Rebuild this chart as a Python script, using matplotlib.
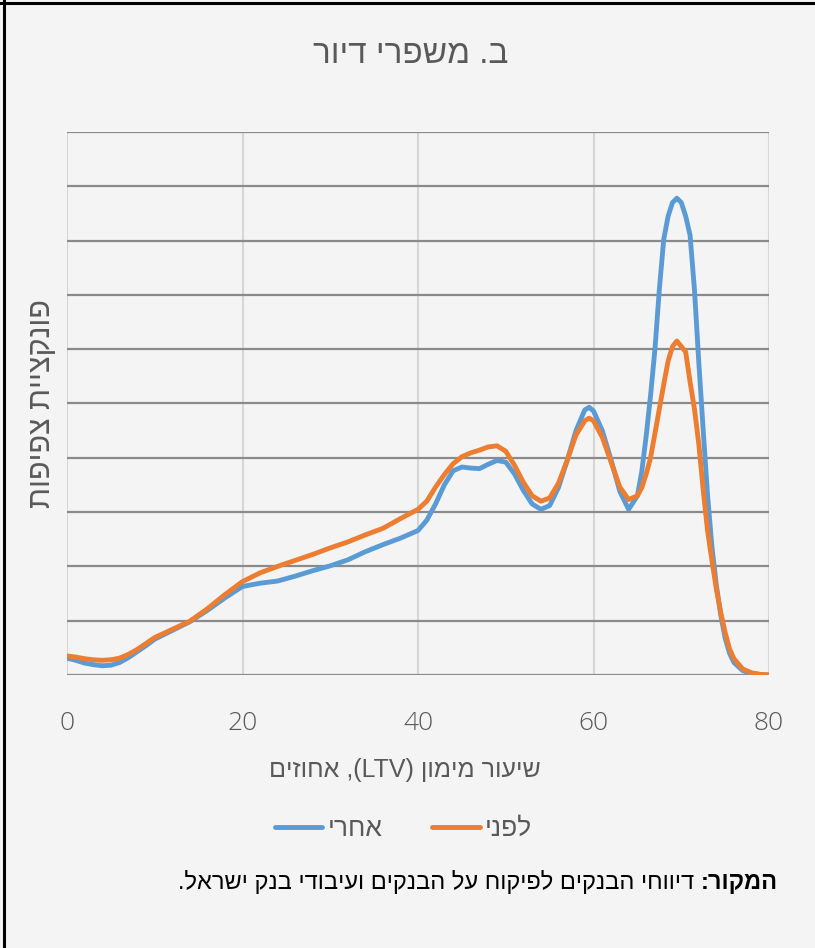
import re
import matplotlib
matplotlib.use("Agg")
import matplotlib.pyplot as plt
from matplotlib.lines import Line2D

# LTV (%) and density in units of one gridline step
ltv = [0, 1, 2, 3, 4, 5, 6, 7, 8, 9, 10, 12, 14, 16, 18, 20, 22, 24, 26, 28,
       30, 32, 34, 36, 38, 40, 41, 42, 43, 44, 45, 46, 47, 48, 49, 50, 51, 52,
       53, 54, 55, 56, 57, 58, 59, 59.5, 60, 61, 62, 63, 64, 65, 65.5, 66,
       66.5, 67, 67.5, 68, 68.5, 69, 69.5, 70, 70.5, 71, 71.5, 72, 72.5, 73,
       73.5, 74, 74.5, 75, 75.5, 76, 77, 78, 79, 80]

after = [0.31, 0.27, 0.22, 0.19, 0.17, 0.18, 0.23, 0.32, 0.43, 0.54, 0.66,
         0.82, 0.98, 1.19, 1.42, 1.63, 1.69, 1.73, 1.82, 1.92, 2.01, 2.12,
         2.27, 2.40, 2.52, 2.66, 2.85, 3.15, 3.50, 3.76, 3.83, 3.81, 3.80,
         3.88, 3.95, 3.92, 3.70, 3.40, 3.15, 3.05, 3.12, 3.45, 3.95, 4.50,
         4.88, 4.93, 4.86, 4.50, 3.96, 3.38, 3.05, 3.30, 3.75, 4.40, 5.15,
         6.00, 7.10, 8.02, 8.45, 8.70, 8.78, 8.70, 8.45, 8.10, 7.10, 5.75,
         4.50, 3.30, 2.35, 1.65, 1.10, 0.68, 0.40, 0.23, 0.08, 0.03, 0.01, 0.0]

before = [0.35, 0.33, 0.30, 0.28, 0.27, 0.28, 0.31, 0.38, 0.47, 0.58, 0.69,
          0.84, 0.99, 1.22, 1.48, 1.72, 1.88, 2.00, 2.11, 2.22, 2.34, 2.45,
          2.58, 2.70, 2.88, 3.05, 3.20, 3.46, 3.69, 3.89, 4.02, 4.09, 4.14,
          4.20, 4.22, 4.12, 3.86, 3.55, 3.30, 3.20, 3.26, 3.53, 3.95, 4.42,
          4.68, 4.73, 4.68, 4.38, 3.92, 3.46, 3.23, 3.30, 3.45, 3.70, 4.00,
          4.45, 4.90, 5.35, 5.78, 6.05, 6.15, 6.05, 5.95, 5.40, 4.90, 4.25,
          3.40, 2.65, 2.10, 1.58, 1.15, 0.78, 0.48, 0.30, 0.11, 0.04, 0.01, 0.0]

x_ticks = [0, 20, 40, 60, 80]

title = "ב. משפרי דיור"
x_label = "שיעור מימון (LTV), אחוזים"
y_label = "פונקציית צפיפות"
label_after = "אחרי"
label_before = "לפני"
source_bold = "המקור:"
source_text = "דיווחי הבנקים לפיקוח על הבנקים ועיבודי בנק ישראל."


def rtl(s):
    # matplotlib has no bidi support, so put the text in visual order by hand
    r = s[::-1].translate(str.maketrans("()", ")("))
    return re.sub(r"[A-Za-z0-9]+", lambda m: m.group(0)[::-1], r)


heb = ['Liberation Sans', 'DejaVu Sans']
plt.rcParams['font.family'] = ['Open Sans', 'Liberation Sans']
grey = '#595959'
blue = '#5B9BD5'
orange = '#ED7D31'

fig = plt.figure(figsize=(8.15, 9.48), dpi=100)
fig.patch.set_facecolor('#f4f4f4')
ax = fig.add_axes([0.0822, 0.2880, 0.8614, 0.5728])
ax.set_facecolor('none')

ax.plot(ltv, after, color=blue, lw=3.5, solid_capstyle='round',
        solid_joinstyle='round', zorder=3)
ax.plot(ltv, before, color=orange, lw=3.5, solid_capstyle='round',
        solid_joinstyle='round', zorder=4)

ax.set_xlim(0, 80)
ax.set_ylim(0, 10)
ax.set_xticks(x_ticks)
ax.set_yticks(range(0, 11))
ax.set_yticklabels([])
ax.tick_params(length=0)
ax.tick_params(axis='x', pad=26, labelsize=19, labelcolor=grey)
for lab in ax.get_xticklabels():
    lab.set_fontweight('light')
ax.grid(axis='y', color='#8a8a8a', lw=1.6)
ax.grid(axis='x', color='#d6d6d6', lw=1.5)
for s in ax.spines.values():
    s.set_visible(False)
ax.set_axisbelow(True)

fig.text(0.504, 0.942, rtl(title), ha='center', va='center', fontsize=24,
         color=grey, family=heb)
fig.text(0.497, 0.188, rtl(x_label), ha='center', va='center', fontsize=18,
         color=grey, family=heb)
fig.text(0.0515, 0.574, rtl(y_label), ha='center', va='center', fontsize=22,
         color=grey, family=heb, rotation=90)

handles = [Line2D([], [], color=blue, lw=3.5, solid_capstyle='round'),
           Line2D([], [], color=orange, lw=3.5, solid_capstyle='round')]
leg = fig.legend(handles, [rtl(label_after), rtl(label_before)], loc='center',
                 bbox_to_anchor=(0.495, 0.1255), ncol=2, frameon=False,
                 prop={'family': heb, 'size': 19}, handlelength=1.8,
                 handletextpad=0.2, columnspacing=1.9)
for t in leg.get_texts():
    t.set_color(grey)

src = fig.text(0.9546, 0.0696, rtl(source_bold), ha='right', va='center',
               fontsize=17, fontweight='bold', color='black', family=heb)
ax.annotate(rtl(source_text) + " ", xy=(0, 0.5), xycoords=src, ha='right',
            va='center', fontsize=17, color='black', family=heb,
            annotation_clip=False)

# frame: dark line on the top and left edges
fig.add_artist(Line2D([0, 1], [0.9965, 0.9965], transform=fig.transFigure,
                      color='black', lw=2.2))
fig.add_artist(Line2D([0.0045, 0.0045], [0, 1], transform=fig.transFigure,
                      color='black', lw=2.2))

fig.savefig('out.png', dpi=100, facecolor=fig.get_facecolor())
